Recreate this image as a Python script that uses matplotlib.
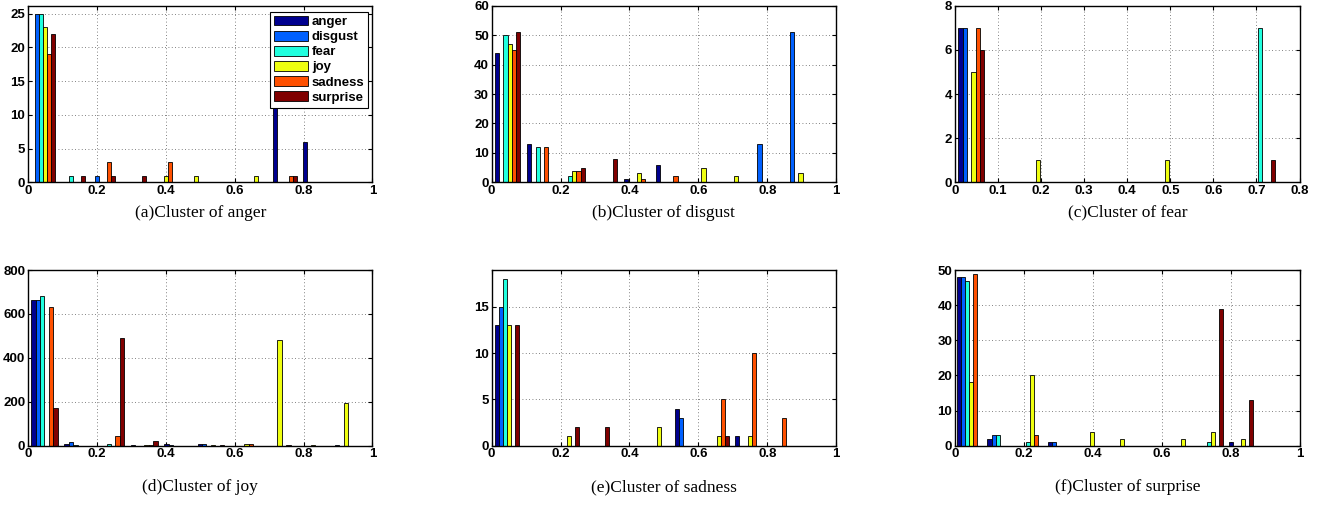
import numpy as np
import matplotlib
matplotlib.use("Agg")
import matplotlib.pyplot as plt
from matplotlib.patches import Patch

series = ["anger", "disgust", "fear", "joy", "sadness", "surprise"]
colors = [(0, 0, 0.5625), (0, 0.375, 1), (0.125, 1, 0.875),
          (0.9375, 1, 0.0625), (1, 0.3125, 0), (0.5, 0, 0)]

# (a) Cluster of anger
a_centers = [0.0428, 0.1306, 0.2184, 0.3062, 0.394, 0.4818, 0.5696, 0.6574, 0.7452, 0.833]
a_anger    = [0, 0, 0, 0, 0, 0, 0, 0, 20, 6]
a_disgust  = [25, 0, 1, 0, 0, 0, 0, 0, 0, 0]
a_fear     = [25, 1, 0, 0, 0, 0, 0, 0, 0, 0]
a_joy      = [23, 0, 0, 0, 1, 1, 0, 1, 0, 0]
a_sadness  = [19, 0, 3, 0, 3, 0, 0, 0, 1, 0]
a_surprise = [22, 1, 1, 1, 0, 0, 0, 0, 1, 0]

# (b) Cluster of disgust
b_centers = [0.046, 0.1398, 0.2336, 0.3274, 0.4212, 0.515, 0.6088, 0.7026, 0.7964, 0.8902]
b_anger    = [44, 13, 0, 0, 1, 6, 0, 0, 0, 0]
b_disgust  = [0, 0, 0, 0, 0, 0, 0, 0, 13, 51]
b_fear     = [50, 12, 2, 0, 0, 0, 0, 0, 0, 0]
b_joy      = [47, 0, 4, 0, 3, 0, 5, 2, 0, 3]
b_sadness  = [45, 12, 4, 0, 1, 2, 0, 0, 0, 0]
b_surprise = [51, 0, 5, 8, 0, 0, 0, 0, 0, 0]

# (c) Cluster of fear
c_centers = [0.0378, 0.1128, 0.1878, 0.2628, 0.3378, 0.4128, 0.4878, 0.5628, 0.6378, 0.7128]
c_anger    = [7, 0, 0, 0, 0, 0, 0, 0, 0, 0]
c_disgust  = [7, 0, 0, 0, 0, 0, 0, 0, 0, 0]
c_fear     = [0, 0, 0, 0, 0, 0, 0, 0, 0, 7]
c_joy      = [5, 0, 1, 0, 0, 0, 1, 0, 0, 0]
c_sadness  = [7, 0, 0, 0, 0, 0, 0, 0, 0, 0]
c_surprise = [6, 0, 0, 0, 0, 0, 0, 0, 0, 1]

# (d) Cluster of joy
d_centers = [0.0477, 0.1443, 0.2409, 0.3375, 0.4341, 0.5307, 0.6273, 0.7239, 0.8205, 0.9171]
d_anger    = [662, 10, 0, 2, 6, 8, 0, 0, 0, 0]
d_disgust  = [662, 15, 0, 0, 2, 6, 0, 0, 0, 3]
d_fear     = [680, 3, 6, 0, 0, 0, 0, 0, 0, 0]
d_joy      = [0, 0, 0, 3, 0, 4, 10, 480, 5, 195]
d_sadness  = [630, 0, 45, 5, 0, 0, 10, 0, 0, 0]
d_surprise = [170, 0, 490, 20, 0, 5, 0, 5, 0, 0]

# (e) Cluster of sadness
e_centers = [0.0435, 0.1309, 0.2183, 0.3057, 0.3931, 0.4805, 0.5679, 0.6553, 0.7427, 0.8301]
e_anger    = [13, 0, 0, 0, 0, 0, 4, 0, 1, 0]
e_disgust  = [15, 0, 0, 0, 0, 0, 3, 0, 0, 0]
e_fear     = [18, 0, 0, 0, 0, 0, 0, 0, 0, 0]
e_joy      = [13, 0, 1, 0, 0, 2, 0, 1, 1, 0]
e_sadness  = [0, 0, 0, 0, 0, 0, 0, 5, 10, 3]
e_surprise = [13, 0, 2, 2, 0, 0, 0, 1, 0, 0]

# (f) Cluster of surprise
f_centers = [0.0416, 0.1292, 0.2168, 0.3044, 0.392, 0.4796, 0.5672, 0.6548, 0.7424, 0.83]
f_anger    = [48, 2, 0, 1, 0, 0, 0, 0, 0, 1]
f_disgust  = [48, 3, 0, 1, 0, 0, 0, 0, 0, 0]
f_fear     = [47, 3, 1, 0, 0, 0, 0, 0, 1, 0]
f_joy      = [18, 0, 20, 0, 4, 2, 0, 2, 4, 2]
f_sadness  = [49, 0, 3, 0, 0, 0, 0, 0, 0, 0]
f_surprise = [0, 0, 0, 0, 0, 0, 0, 0, 39, 13]

captions = ["(a)Cluster of anger", "(b)Cluster of disgust", "(c)Cluster of fear",
            "(d)Cluster of joy", "(e)Cluster of sadness", "(f)Cluster of surprise"]

panels = [
    (a_centers, [a_anger, a_disgust, a_fear, a_joy, a_sadness, a_surprise], (0, 1), (0, 26.2), [0, 5, 10, 15, 20, 25]),
    (b_centers, [b_anger, b_disgust, b_fear, b_joy, b_sadness, b_surprise], (0, 1), (0, 60), [0, 10, 20, 30, 40, 50, 60]),
    (c_centers, [c_anger, c_disgust, c_fear, c_joy, c_sadness, c_surprise], (0, 0.8), (0, 8), [0, 2, 4, 6, 8]),
    (d_centers, [d_anger, d_disgust, d_fear, d_joy, d_sadness, d_surprise], (0, 1), (0, 800), [0, 200, 400, 600, 800]),
    (e_centers, [e_anger, e_disgust, e_fear, e_joy, e_sadness, e_surprise], (0, 1), (0, 19), [0, 5, 10, 15]),
    (f_centers, [f_anger, f_disgust, f_fear, f_joy, f_sadness, f_surprise], (0, 1), (0, 50), [0, 10, 20, 30, 40, 50]),
]

fig = plt.figure(figsize=(13.27, 5.08), dpi=100)

lefts = [0.0211, 0.3705, 0.7197]
width = 0.2596
row_bottoms = [0.6411, 0.1226]
heights = [0.3477, 0.3459]
cap_y = [0.581, 0.041]

FS = 9.5

for idx, (centers, vals, xl, yl, yt) in enumerate(panels):
    r, c = divmod(idx, 3)
    ax = fig.add_axes([lefts[c], row_bottoms[r], width, heights[r]])
    centers = np.asarray(centers)
    d = np.mean(np.diff(centers))
    w = 0.8 * d / len(series)
    for i, (name, v) in enumerate(zip(series, vals)):
        ax.bar(centers + (i - 2.5) * w, v, width=w, color=colors[i],
               edgecolor="black", linewidth=0.6, label=name, zorder=3)
    ax.set_xlim(*xl)
    ax.set_ylim(*yl)
    ax.set_yticks(yt)
    if xl[1] == 1:
        xt = [0, 0.2, 0.4, 0.6, 0.8, 1]
        xlabels = ["0", "0.2", "0.4", "0.6", "0.8", "1"]
    else:
        xt = [0, 0.1, 0.2, 0.3, 0.4, 0.5, 0.6, 0.7, 0.8]
        xlabels = ["0", "0.1", "0.2", "0.3", "0.4", "0.5", "0.6", "0.7", "0.8"]
    ax.set_xticks(xt)
    ax.set_xticklabels(xlabels)
    ax.set_yticklabels([str(t) for t in yt])
    for lab in ax.get_xticklabels() + ax.get_yticklabels():
        lab.set_fontfamily("Liberation Sans")
        lab.set_fontweight("bold")
        lab.set_fontsize(FS)
    ax.tick_params(direction="in", length=3, width=0.8, top=True, right=True, pad=2)
    ax.grid(True, linestyle=(0, (1, 3)), color="0.35", linewidth=0.6, zorder=0)
    ax.set_axisbelow(True)
    for s in ax.spines.values():
        s.set_linewidth(1.0)
        s.set_zorder(5)
    if idx == 0:
        handles = [Patch(facecolor=colors[i], edgecolor="black", linewidth=0.6, label=series[i])
                   for i in range(len(series))]
        leg = ax.legend(handles=handles, loc="upper right", bbox_to_anchor=(0.988, 0.965),
                        borderaxespad=0, fancybox=False, framealpha=1, edgecolor="black",
                        prop=dict(family="Liberation Sans", weight="bold", size=FS),
                        handlelength=2.6, handleheight=0.75, labelspacing=0.2,
                        handletextpad=0.25, borderpad=0.3)
        leg.get_frame().set_linewidth(0.8)
        leg.set_zorder(10)
    fig.text(lefts[c] + width / 2, cap_y[r], captions[idx], ha="center", va="center",
             family="Liberation Serif", fontsize=12.5)

fig.savefig("out.png", dpi=100)
